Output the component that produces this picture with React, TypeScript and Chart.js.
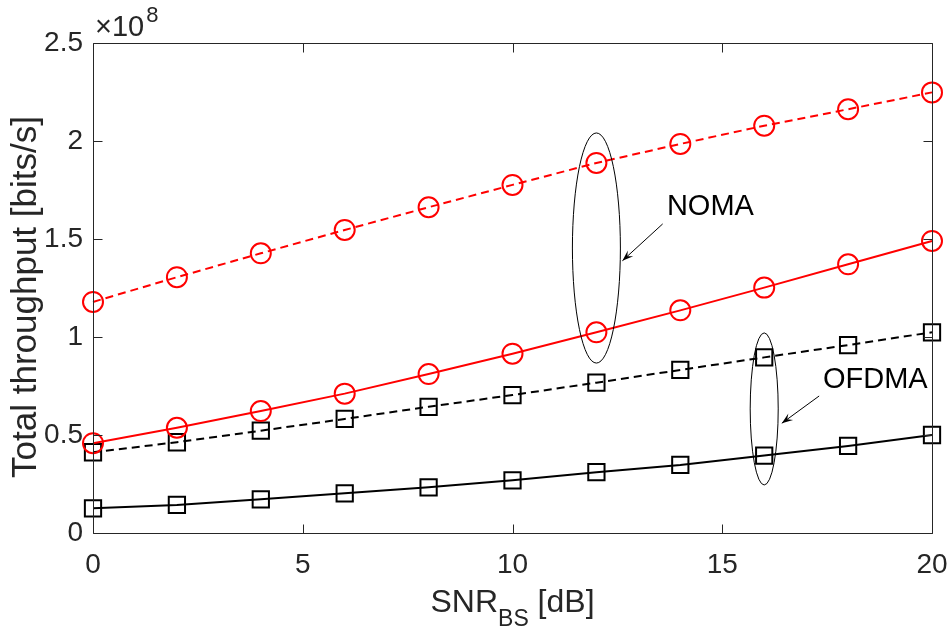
import { useEffect, useRef } from 'react';
import { Chart, registerables } from 'chart.js';

Chart.register(...registerables);

// SNR_BS [dB]
const snr = [0, 2, 4, 6, 8, 10, 12, 14, 16, 18, 20];
// Total throughput, in units of 1e8 bits/s
const nomaDashed = [1.179, 1.305, 1.427, 1.546, 1.662, 1.776, 1.888, 1.985, 2.078, 2.162, 2.248];
const nomaSolid = [0.458, 0.537, 0.622, 0.711, 0.811, 0.915, 1.024, 1.136, 1.252, 1.371, 1.49];
const ofdmaDashed = [0.412, 0.463, 0.522, 0.582, 0.644, 0.704, 0.767, 0.832, 0.896, 0.959, 1.024];
const ofdmaSolid = [0.126, 0.143, 0.172, 0.2025, 0.233, 0.269, 0.31, 0.347, 0.395, 0.444, 0.5];

const xTickValues = [0, 5, 10, 15, 20];
const xTickLabels = ['0', '5', '10', '15', '20'];
const yTickValues = [0, 0.5, 1, 1.5, 2, 2.5];
const yTickLabels = ['0', '0.5', '1', '1.5', '2', '2.5'];

// annotations in data units: [cx, cy, rx, ry]
const nomaEllipse = [12, 1.454, 0.572, 0.587];
const ofdmaEllipse = [16, 0.633, 0.334, 0.388];
// text [x, y], arrow [x0, y0, x1, y1]
const nomaText = [13.68, 1.663];
const nomaArrow = [13.58, 1.577, 12.62, 1.389];
const ofdmaText = [17.4, 0.781];
const ofdmaArrow = [17.31, 0.699, 16.42, 0.56];

const FONT = '"Liberation Sans", Arial, Helvetica, sans-serif';
const AX = '#262626';

const matlabPlugin = {
  id: 'matlab',
  afterDatasetsDraw(chart: any) {
    const { ctx, chartArea: a, scales } = chart;
    const x = scales.x;
    const y = scales.y;
    ctx.save();
    ctx.strokeStyle = AX;
    ctx.lineWidth = 1;
    const L = Math.round(a.left) + 0.5;
    const R = Math.round(a.right) + 0.5;
    const T = Math.round(a.top) + 0.5;
    const B = Math.round(a.bottom) + 0.5;
    ctx.beginPath();
    ctx.rect(L, T, R - L, B - T);
    const tl = 9;
    for (const v of xTickValues) {
      const px = Math.round(x.getPixelForValue(v)) + 0.5;
      ctx.moveTo(px, B);
      ctx.lineTo(px, B - tl);
      ctx.moveTo(px, T);
      ctx.lineTo(px, T + tl);
    }
    for (const v of yTickValues) {
      const py = Math.round(y.getPixelForValue(v)) + 0.5;
      ctx.moveTo(L, py);
      ctx.lineTo(L + tl, py);
      ctx.moveTo(R, py);
      ctx.lineTo(R - tl, py);
    }
    ctx.stroke();

    // ellipses
    ctx.strokeStyle = '#000';
    ctx.lineWidth = 1;
    for (const e of [nomaEllipse, ofdmaEllipse]) {
      const cx = x.getPixelForValue(e[0]);
      const cy = y.getPixelForValue(e[1]);
      const rx = Math.abs(x.getPixelForValue(e[0] + e[2]) - cx);
      const ry = Math.abs(y.getPixelForValue(e[1] + e[3]) - cy);
      ctx.beginPath();
      ctx.ellipse(cx, cy, rx, ry, 0, 0, Math.PI * 2);
      ctx.stroke();
    }
    // arrows
    for (const ar of [nomaArrow, ofdmaArrow]) {
      const x0 = x.getPixelForValue(ar[0]);
      const y0 = y.getPixelForValue(ar[1]);
      const x1 = x.getPixelForValue(ar[2]);
      const y1 = y.getPixelForValue(ar[3]);
      const ang = Math.atan2(y1 - y0, x1 - x0);
      ctx.beginPath();
      ctx.moveTo(x0, y0);
      ctx.lineTo(x1, y1);
      ctx.stroke();
      const hl = 11;
      const hw = 4;
      const bx = x1 - hl * Math.cos(ang);
      const by = y1 - hl * Math.sin(ang);
      ctx.beginPath();
      ctx.moveTo(x1, y1);
      ctx.lineTo(bx + hw * Math.sin(ang), by - hw * Math.cos(ang));
      ctx.lineTo(x1 - 0.6 * hl * Math.cos(ang), y1 - 0.6 * hl * Math.sin(ang));
      ctx.lineTo(bx - hw * Math.sin(ang), by + hw * Math.cos(ang));
      ctx.closePath();
      ctx.fillStyle = '#000';
      ctx.fill();
    }
    // annotation texts
    ctx.fillStyle = '#000';
    ctx.font = `29px ${FONT}`;
    ctx.textAlign = 'left';
    ctx.textBaseline = 'middle';
    ctx.fillText('NOMA', x.getPixelForValue(nomaText[0]), y.getPixelForValue(nomaText[1]));
    ctx.fillText('OFDMA', x.getPixelForValue(ofdmaText[0]), y.getPixelForValue(ofdmaText[1]));

    // axis titles
    ctx.fillStyle = AX;
    ctx.textBaseline = 'alphabetic';
    // y title
    ctx.save();
    ctx.translate(36, (a.top + a.bottom) / 2 + 9);
    ctx.rotate(-Math.PI / 2);
    ctx.font = `35px ${FONT}`;
    ctx.textAlign = 'center';
    ctx.fillText('Total throughput [bits/s]', 0, 0);
    ctx.restore();
    // x title with subscript
    const big = `32px ${FONT}`;
    const small = `23px ${FONT}`;
    ctx.font = big;
    const w1 = ctx.measureText('SNR').width;
    const w3 = ctx.measureText(' [dB]').width;
    ctx.font = small;
    const w2 = ctx.measureText('BS').width;
    const total = w1 + w2 + w3;
    let sx = (a.left + a.right) / 2 - total / 2;
    const base = 611.5;
    ctx.textAlign = 'left';
    ctx.font = big;
    ctx.fillText('SNR', sx, base);
    sx += w1;
    ctx.font = small;
    ctx.fillText('BS', sx, base + 14);
    sx += w2;
    ctx.font = big;
    ctx.fillText(' [dB]', sx, base);

    // exponent label
    ctx.font = `29px ${FONT}`;
    ctx.fillText('\u00d710', a.left + 2, 36);
    const we = ctx.measureText('\u00d710').width;
    ctx.font = `22px ${FONT}`;
    ctx.fillText('8', a.left + 4 + we, 22);
    ctx.restore();
  },
};

export default function App() {
  const ref = useRef<HTMLCanvasElement | null>(null);
  useEffect(() => {
    document.body.style.margin = '0';
    const canvas = ref.current;
    if (!canvas) return;
    const mk = (data: number[], color: string, dashed: boolean, style: string, radius: number) => ({
      data: snr.map((s, i) => ({ x: s, y: data[i] })),
      borderColor: color,
      borderWidth: 2,
      borderDash: dashed ? [8, 5] : [],
      pointStyle: style,
      pointRadius: radius,
      pointBorderWidth: 2,
      pointBorderColor: color,
      pointBackgroundColor: 'rgba(0,0,0,0)',
      fill: false,
      tension: 0,
      clip: false as any,
    });
    const chart = new Chart(canvas, {
      type: 'line',
      data: {
        datasets: [
          mk(nomaDashed, '#ff0000', true, 'circle', 10),
          mk(nomaSolid, '#ff0000', false, 'circle', 10),
          mk(ofdmaDashed, '#000000', true, 'rect', 11.5),
          mk(ofdmaSolid, '#000000', false, 'rect', 11.5),
        ] as any,
      },
      options: {
        animation: false,
        responsive: false,
        devicePixelRatio: 1,
        layout: { padding: { left: 0, top: 43, right: 18, bottom: 0 } },
        plugins: { legend: { display: false }, tooltip: { enabled: false } },
        events: [],
        scales: {
          x: {
            type: 'linear',
            min: 0,
            max: 20,
            grid: { display: false, drawTicks: false },
            border: { display: false },
            afterBuildTicks: (s: any) => {
              s.ticks = xTickValues.map((v) => ({ value: v }));
            },
            afterFit: (s: any) => {
              s.height = 93;
              s.paddingLeft = 0;
              s.paddingRight = 0;
              s.paddingTop = 0;
              s.paddingBottom = 0;
            },
            ticks: {
              autoSkip: false,
              maxRotation: 0,
              padding: 15,
              color: AX,
              font: { family: FONT, size: 28 },
              callback: (_v: any, i: number) => xTickLabels[i],
            },
          },
          y: {
            type: 'linear',
            min: 0,
            max: 2.5,
            grid: { display: false, drawTicks: false },
            border: { display: false },
            afterBuildTicks: (s: any) => {
              s.ticks = yTickValues.map((v) => ({ value: v }));
            },
            afterFit: (s: any) => {
              s.width = 93;
              s.paddingLeft = 0;
              s.paddingRight = 0;
              s.paddingTop = 0;
              s.paddingBottom = 0;
            },
            ticks: {
              autoSkip: false,
              padding: 10,
              color: AX,
              font: { family: FONT, size: 28 },
              callback: (_v: any, i: number) => yTickLabels[i],
            },
          },
        },
      } as any,
      plugins: [matlabPlugin],
    });
    return () => chart.destroy();
  }, []);
  return (
    <div style={{ width: 950, height: 626, background: '#fff' }}>
      <canvas ref={ref} width={950} height={626} style={{ display: 'block' }} />
    </div>
  );
}
